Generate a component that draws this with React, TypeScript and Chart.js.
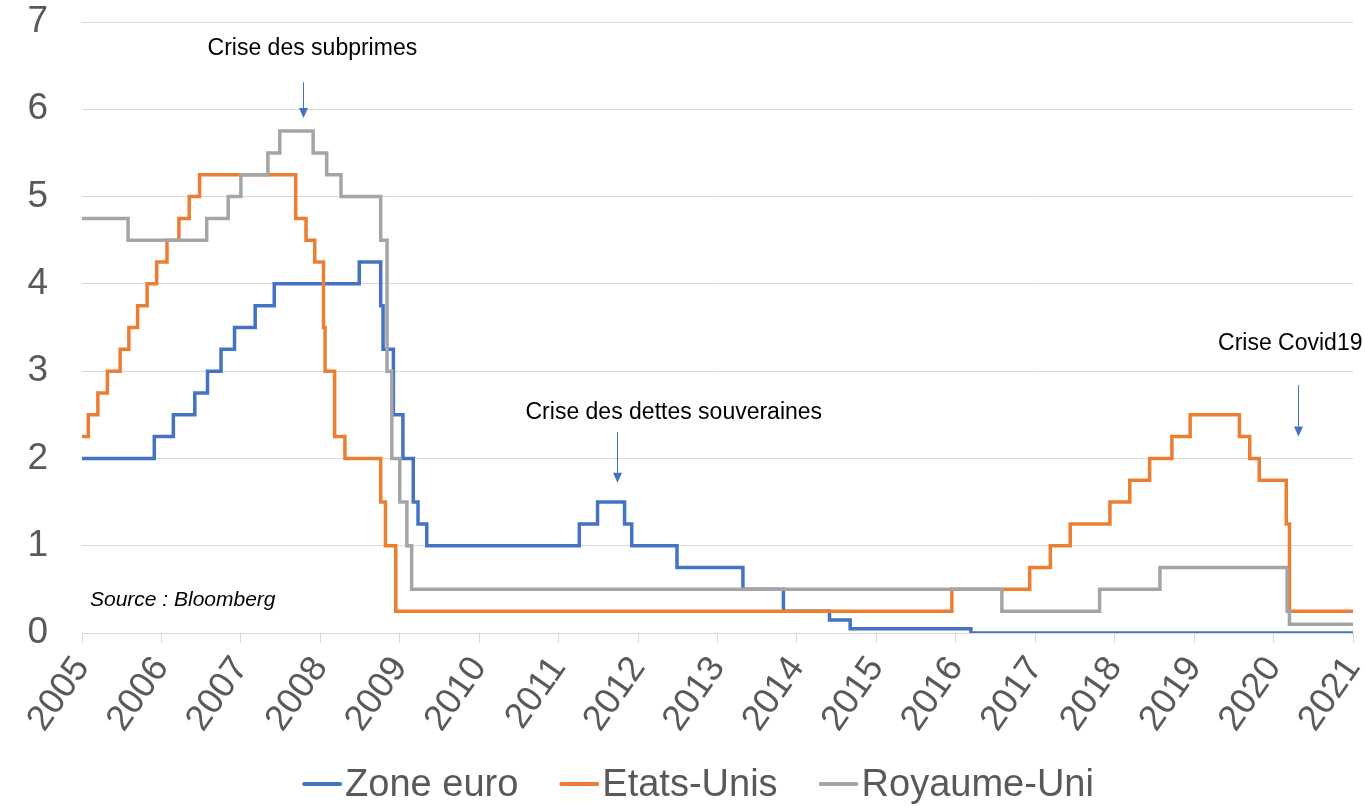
import React, { useEffect, useRef } from "react";
import { Chart, registerables } from "chart.js";

Chart.register(...registerables);

// ---- Data (decimal years of each rate change, and the new rate) ----
const euroDates = [2005.0, 2005.91, 2006.15, 2006.42, 2006.58, 2006.75, 2006.92, 2007.18, 2007.42, 2008.49, 2008.76, 2008.79, 2008.92, 2009.04, 2009.17, 2009.23, 2009.34, 2011.26, 2011.49, 2011.83, 2011.92, 2012.49, 2013.32, 2013.83, 2014.41, 2014.67, 2016.19, 2021.0];
const euroRates = [2.0, 2.25, 2.5, 2.75, 3.0, 3.25, 3.5, 3.75, 4.0, 4.25, 3.75, 3.25, 2.5, 2.0, 1.5, 1.25, 1.0, 1.25, 1.5, 1.25, 1.0, 0.75, 0.5, 0.25, 0.15, 0.05, 0.0, 0.0];

const usDates = [2005.0, 2005.08, 2005.2, 2005.32, 2005.48, 2005.59, 2005.7, 2005.82, 2005.94, 2006.07, 2006.22, 2006.35, 2006.48, 2007.69, 2007.82, 2007.93, 2008.04, 2008.06, 2008.18, 2008.31, 2008.76, 2008.82, 2008.95, 2015.95, 2016.93, 2017.19, 2017.44, 2017.94, 2018.19, 2018.44, 2018.72, 2018.95, 2019.57, 2019.7, 2019.82, 2020.16, 2020.2, 2021.0];
const usRates = [2.25, 2.5, 2.75, 3.0, 3.25, 3.5, 3.75, 4.0, 4.25, 4.5, 4.75, 5.0, 5.25, 4.75, 4.5, 4.25, 3.5, 3.0, 2.25, 2.0, 1.5, 1.0, 0.25, 0.5, 0.75, 1.0, 1.25, 1.5, 1.75, 2.0, 2.25, 2.5, 2.25, 2.0, 1.75, 1.25, 0.25, 0.25];

const ukDates = [2005.0, 2005.58, 2006.57, 2006.84, 2007.0, 2007.34, 2007.49, 2007.91, 2008.08, 2008.26, 2008.76, 2008.84, 2008.9, 2009.0, 2009.09, 2009.15, 2016.58, 2017.81, 2018.57, 2020.17, 2020.2, 2021.0];
const ukRates = [4.75, 4.5, 4.75, 5.0, 5.25, 5.5, 5.75, 5.5, 5.25, 5.0, 4.5, 3.0, 2.0, 1.5, 1.0, 0.5, 0.25, 0.5, 0.75, 0.25, 0.1, 0.1];

const seriesNames = ["Zone euro", "Etats-Unis", "Royaume-Uni"];
const seriesColors = ["#4472C4", "#ED7D31", "#A5A5A5"];

const yearMin = 2005;
const yearMax = 2021;
const rateMin = 0;
const rateMax = 7;

// ---- Annotations (in data coordinates) ----
const annotationTexts = ["Crise des subprimes", "Crise des dettes souveraines", "Crise Covid19"];
const annotationTextX = [2007.9, 2012.45, 2020.21];
const annotationTextY = [6.69, 2.53, 3.31];
const arrowX = [2007.78, 2011.73, 2020.31];
const arrowFromY = [6.31, 2.3, 2.84];
const arrowToY = [5.9, 1.72, 2.25];
const sourceText = "Source : Bloomberg";
const sourceX = 2005.1;
const sourceY = 0.38;

const FONT = '"Liberation Sans", Arial, sans-serif';
const TEXT_GREY = "#595959";

const annotationPlugin = {
  id: "annotations",
  afterDatasetsDraw(chart: any) {
    const { ctx, scales } = chart;
    const xs = scales.x;
    const ys = scales.y;
    ctx.save();
    ctx.fillStyle = "#000000";
    ctx.font = `23px ${FONT}`;
    ctx.textAlign = "center";
    ctx.textBaseline = "middle";
    annotationTexts.forEach((t, i) => {
      ctx.fillText(t, xs.getPixelForValue(annotationTextX[i]), ys.getPixelForValue(annotationTextY[i]));
    });
    ctx.strokeStyle = "#4472C4";
    ctx.fillStyle = "#4472C4";
    ctx.lineWidth = 1;
    arrowX.forEach((ax, i) => {
      const px = Math.round(xs.getPixelForValue(ax)) + 0.5;
      const y1 = ys.getPixelForValue(arrowFromY[i]);
      const y2 = ys.getPixelForValue(arrowToY[i]);
      const head = 10;
      ctx.beginPath();
      ctx.moveTo(px, y1);
      ctx.lineTo(px, y2 - head);
      ctx.stroke();
      ctx.beginPath();
      ctx.moveTo(px - 4.5, y2 - head);
      ctx.lineTo(px + 4.5, y2 - head);
      ctx.lineTo(px, y2);
      ctx.closePath();
      ctx.fill();
    });
    ctx.fillStyle = "#000000";
    ctx.font = `italic 21px ${FONT}`;
    ctx.textAlign = "left";
    ctx.fillText(sourceText, xs.getPixelForValue(sourceX), ys.getPixelForValue(sourceY));
    ctx.restore();
  },
};

const legendPlugin = {
  id: "customLegend",
  afterDraw(chart: any) {
    const { ctx } = chart;
    ctx.save();
    ctx.font = `38px ${FONT}`;
    ctx.textBaseline = "middle";
    ctx.textAlign = "left";
    const lineW = 40;
    const gapLineText = 3;
    const itemGap = 41;
    const widths = seriesNames.map((n) => ctx.measureText(n).width);
    const total = widths.reduce((a, w) => a + lineW + gapLineText + w, 0) + itemGap * (seriesNames.length - 1);
    let x = 698 - total / 2;
    const y = 786;
    seriesNames.forEach((n, i) => {
      ctx.strokeStyle = seriesColors[i];
      ctx.lineWidth = 4;
      ctx.lineCap = "round";
      ctx.beginPath();
      ctx.moveTo(x + 2, y - 2);
      ctx.lineTo(x + lineW - 2, y - 2);
      ctx.stroke();
      ctx.fillStyle = TEXT_GREY;
      ctx.fillText(n, x + lineW + gapLineText, y);
      x += lineW + gapLineText + widths[i] + itemGap;
    });
    ctx.restore();
  },
};

export default function App() {
  const canvasRef = useRef<HTMLCanvasElement | null>(null);

  useEffect(() => {
    if (!canvasRef.current) return;
    const mk = (dates: number[], rates: number[]) => dates.map((d, i) => ({ x: d, y: rates[i] }));
    const datasets = [
      { label: seriesNames[0], data: mk(euroDates, euroRates), borderColor: seriesColors[0], order: 3 },
      { label: seriesNames[1], data: mk(usDates, usRates), borderColor: seriesColors[1], order: 2 },
      { label: seriesNames[2], data: mk(ukDates, ukRates), borderColor: seriesColors[2], order: 1 },
    ].map((d) => ({
      ...d,
      backgroundColor: d.borderColor,
      borderWidth: 3.5,
      pointRadius: 0,
      stepped: "before" as const,
      fill: false,
    }));

    const chart = new Chart(canvasRef.current, {
      type: "line",
      data: { datasets },
      plugins: [annotationPlugin, legendPlugin],
      options: {
        animation: false,
        responsive: false,
        devicePixelRatio: 1,
        layout: { padding: { top: 22, right: 12, left: 0, bottom: 0 } },
        plugins: { legend: { display: false }, tooltip: { enabled: false } },
        scales: {
          x: {
            type: "linear",
            min: yearMin,
            max: yearMax,
            afterFit: (s: any) => {
              s.height = 173;
              s.paddingLeft = 0;
              s.paddingRight = 0;
            },
            grid: { drawOnChartArea: false, drawTicks: true, tickLength: 10, color: "#D9D9D9" },
            border: { color: "#D9D9D9", width: 1 },
            ticks: {
              stepSize: 1,
              autoSkip: false,
              minRotation: 55,
              maxRotation: 55,
              padding: 6,
              color: TEXT_GREY,
              font: { family: FONT, size: 36 },
              callback: (v: any) => String(v),
            },
          },
          y: {
            min: rateMin,
            max: rateMax,
            afterFit: (s: any) => {
              s.width = 82;
              s.paddingTop = 0;
              s.paddingBottom = 0;
            },
            grid: { color: "#D9D9D9", lineWidth: 1, drawTicks: false },
            border: { display: false },
            ticks: {
              stepSize: 1,
              padding: 34,
              color: TEXT_GREY,
              font: { family: FONT, size: 37 },
            },
          },
        },
      },
    });
    return () => chart.destroy();
  }, []);

  return (
    <div style={{ position: "absolute", left: 0, top: 0, width: 1365, height: 806, background: "#fff" }}>
      <canvas ref={canvasRef} width={1365} height={806} />
    </div>
  );
}
